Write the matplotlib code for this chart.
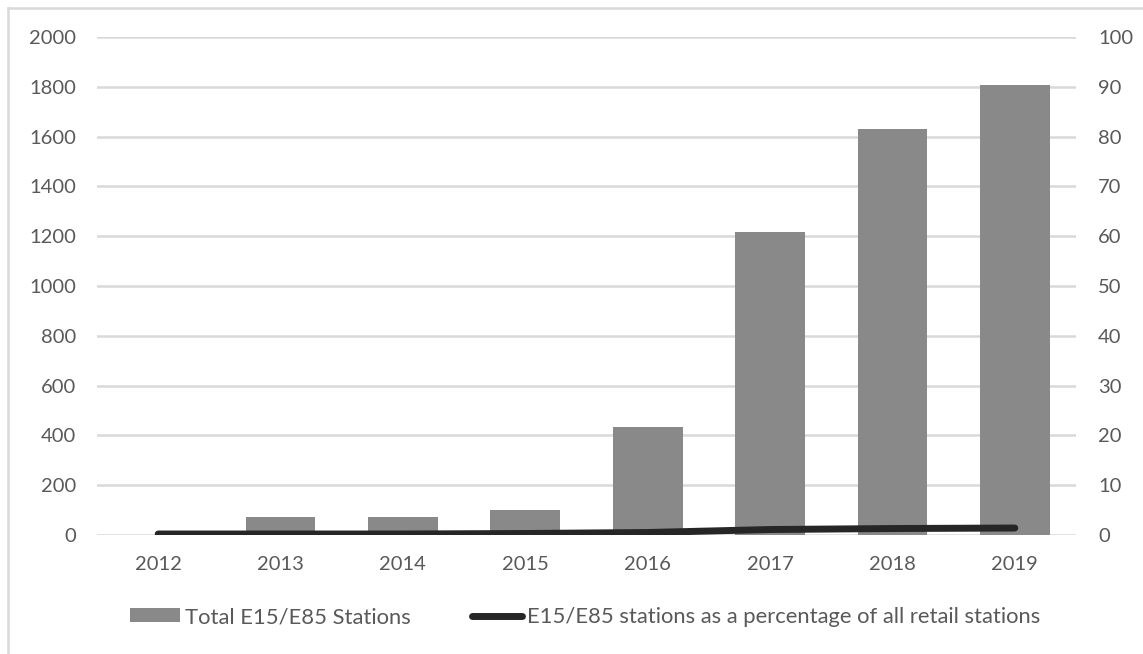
import matplotlib
matplotlib.use("Agg")
import matplotlib.pyplot as plt
from matplotlib.lines import Line2D
from matplotlib.patches import Patch
import numpy as np

years = ["2012", "2013", "2014", "2015", "2016", "2017", "2018", "2019"]
stations = [0, 72, 72, 102, 434, 1217, 1631, 1808]
percent = [0.2, 0.2, 0.2, 0.3, 0.5, 1.1, 1.3, 1.4]
left_ticks = [0, 200, 400, 600, 800, 1000, 1200, 1400, 1600, 1800, 2000]
right_ticks = [0, 10, 20, 30, 40, 50, 60, 70, 80, 90, 100]

plt.rcParams['font.family'] = ['Lato', 'DejaVu Sans']
txt = '#595959'

fig = plt.figure(figsize=(11.43, 6.54), dpi=100)
W, H = 1143, 654
ax = fig.add_axes([97 / W, 1 - 535 / H, (1076 - 97) / W, (535 - 37) / H])
x = np.arange(len(years))
ax.bar(x, stations, width=0.57, color='#898989', zorder=2)
ax.set_xlim(-0.5, len(years) - 0.5)
ax.set_ylim(0, 2000)
ax.set_yticks(left_ticks)
ax.set_xticks(x)
ax.set_xticklabels(years)
ax.yaxis.grid(True, color='#d9d9d9', linewidth=1.8, zorder=0)
ax.set_axisbelow(True)
for s in ax.spines.values():
    s.set_visible(False)
ax.tick_params(length=0, colors=txt, labelsize=14.5, pad=15)
ax.tick_params(axis='x', pad=15)

ax2 = ax.twinx()
ax2.plot(x, percent, color='#262626', linewidth=5, solid_capstyle='round', zorder=3)
ax2.set_ylim(0, 100)
ax2.set_yticks(right_ticks)
for s in ax2.spines.values():
    s.set_visible(False)
ax2.tick_params(length=0, colors=txt, labelsize=14.5, pad=16)

# outer border (left and top)
fig.add_artist(Line2D([8 / W, 8 / W], [0, 1 - 8 / H], color='#d9d9d9', linewidth=1.8))
fig.add_artist(Line2D([8 / W, 1], [1 - 8 / H, 1 - 8 / H], color='#d9d9d9', linewidth=1.8))

handles = [Patch(facecolor='#898989', edgecolor='none'),
           Line2D([0], [0], color='#262626', linewidth=5, solid_capstyle='round')]
labels = ["Total E15/E85 Stations", "E15/E85 stations as a percentage of all retail stations"]
fig.legend(handles, labels, loc='center', bbox_to_anchor=(585 / W, 1 - 617 / H), ncol=2,
           frameon=False, handlelength=2.3, handleheight=0.6, handletextpad=0.2,
           columnspacing=2.8, fontsize=15.8, labelcolor=txt)

fig.savefig("out.png", dpi=100)
